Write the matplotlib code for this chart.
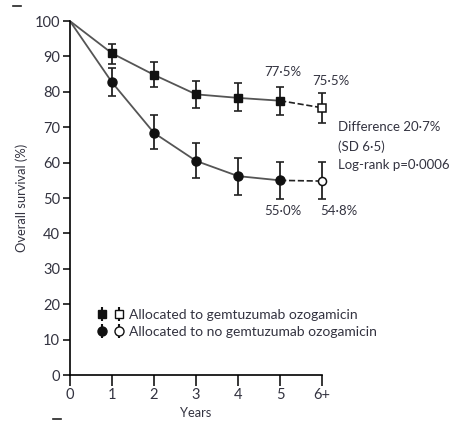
import matplotlib.pyplot as plt
from matplotlib.legend_handler import HandlerTuple
from matplotlib.lines import Line2D

plt.rcParams['font.family'] = ['Lato', 'DejaVu Sans']

years = [0, 1, 2, 3, 4, 5, 6]
year_labels = ['0', '1', '2', '3', '4', '5', '6+']

# allocated to gemtuzumab ozogamicin
go_surv = [100, 90.9, 84.8, 79.3, 78.3, 77.5, 75.5]
go_low = [100, 87.8, 81.4, 75.5, 74.6, 73.4, 71.3]
go_high = [100, 93.5, 88.4, 83.2, 82.4, 81.5, 79.7]

# allocated to no gemtuzumab ozogamicin
nogo_surv = [100, 82.7, 68.4, 60.5, 56.2, 55.0, 54.8]
nogo_low = [100, 78.8, 63.9, 55.8, 51.0, 49.7, 49.7]
nogo_high = [100, 86.6, 73.4, 65.6, 61.4, 60.1, 60.1]

txt = '#333340'
line_col = '#555555'

fig = plt.figure(figsize=(4.57, 4.21), dpi=100)
ax = fig.add_axes([0.153, 0.109, 0.552, 0.841])


def draw_group(surv, low, high, mk, ms):
    # solid line to year 5, dashed to 6+
    ax.plot(years[:6], surv[:6], '-', color=line_col, lw=1.3, zorder=1)
    ax.plot(years[5:], surv[5:], '--', color='#222222', lw=1.2, zorder=1)
    yerr = [[s - l for s, l in zip(surv[1:], low[1:])],
            [h - s for s, h in zip(surv[1:], high[1:])]]
    ax.errorbar(years[1:], surv[1:], yerr=yerr, fmt='none', ecolor='#222222',
                elinewidth=1.3, capsize=3, capthick=1.2, zorder=2, clip_on=False)
    ax.plot(years[1:6], surv[1:6], mk, color='#111111', ms=ms, zorder=3)
    ax.plot(years[6:], surv[6:], mk, mfc='white', mec='#111111', mew=1.1,
            ms=ms - 0.7, zorder=3, clip_on=False)


draw_group(go_surv, go_low, go_high, 's', 6)
draw_group(nogo_surv, nogo_low, nogo_high, 'o', 6.5)

# value annotations
fs = 9.5
ax.text(5.07, 85.6, '77·5%', ha='center', va='center', fontsize=fs, color=txt)
ax.text(6.2, 83.0, '75·5%', ha='center', va='center', fontsize=fs, color=txt)
ax.text(5.07, 46.3, '55·0%', ha='center', va='center', fontsize=fs, color=txt)
ax.text(6.4, 46.3, '54·8%', ha='center', va='center', fontsize=fs, color=txt)
ax.text(6.38, 70.1, 'Difference 20·7%', ha='left', va='center', fontsize=fs, color=txt)
ax.text(6.38, 64.6, '(SD 6·5)', ha='left', va='center', fontsize=fs, color=txt)
ax.text(6.38, 59.3, 'Log-rank p=0·0006', ha='left', va='center', fontsize=fs, color=txt)

# legend
go_f = ax.errorbar([], [], yerr=[], fmt='s', color='#111111', ms=6, capsize=2.5)
go_o = ax.errorbar([], [], yerr=[], fmt='s', color='#111111', mfc='white', ms=6, capsize=2.5)
no_f = ax.errorbar([], [], yerr=[], fmt='o', color='#111111', ms=6.5, capsize=2.5)
no_o = ax.errorbar([], [], yerr=[], fmt='o', color='#111111', mfc='white', ms=6.5, capsize=2.5)
ax.legend([(go_f, go_o), (no_f, no_o)],
          ['Allocated to gemtuzumab ozogamicin', 'Allocated to no gemtuzumab ozogamicin'],
          handler_map={tuple: HandlerTuple(ndivide=None, pad=0.5)},
          loc='lower left', bbox_to_anchor=(0.055, 0.07), frameon=False,
          fontsize=10, handlelength=2.0, handletextpad=0.35, labelspacing=0.35,
          labelcolor=txt)

ax.set_xlim(0, 6)
ax.set_ylim(0, 100)
ax.set_xticks(years)
ax.set_xticklabels(year_labels)
ax.set_yticks(range(0, 101, 10))
ax.spines['top'].set_visible(False)
ax.spines['right'].set_visible(False)
ax.spines['left'].set_linewidth(1.2)
ax.spines['bottom'].set_linewidth(1.2)
ax.tick_params(axis='y', length=5, width=1.1, labelsize=10.5, labelcolor=txt, pad=2)
ax.tick_params(axis='x', length=8, width=1.1, labelsize=10.5, labelcolor=txt, pad=1)
ax.set_ylabel('Overall survival (%)', fontsize=9.3, color=txt, labelpad=5)
ax.set_xlabel('Years', fontsize=9.3, color=txt, labelpad=4)

# small crop marks left over in the original figure
fig.add_artist(Line2D([13 / 457, 21 / 457], [1 - 6 / 421, 1 - 6 / 421], color='#222222', lw=1.2))
fig.add_artist(Line2D([53 / 457, 61 / 457], [1 - 419 / 421, 1 - 419 / 421], color='#222222', lw=1.2))

fig.savefig('out.png', dpi=100)
